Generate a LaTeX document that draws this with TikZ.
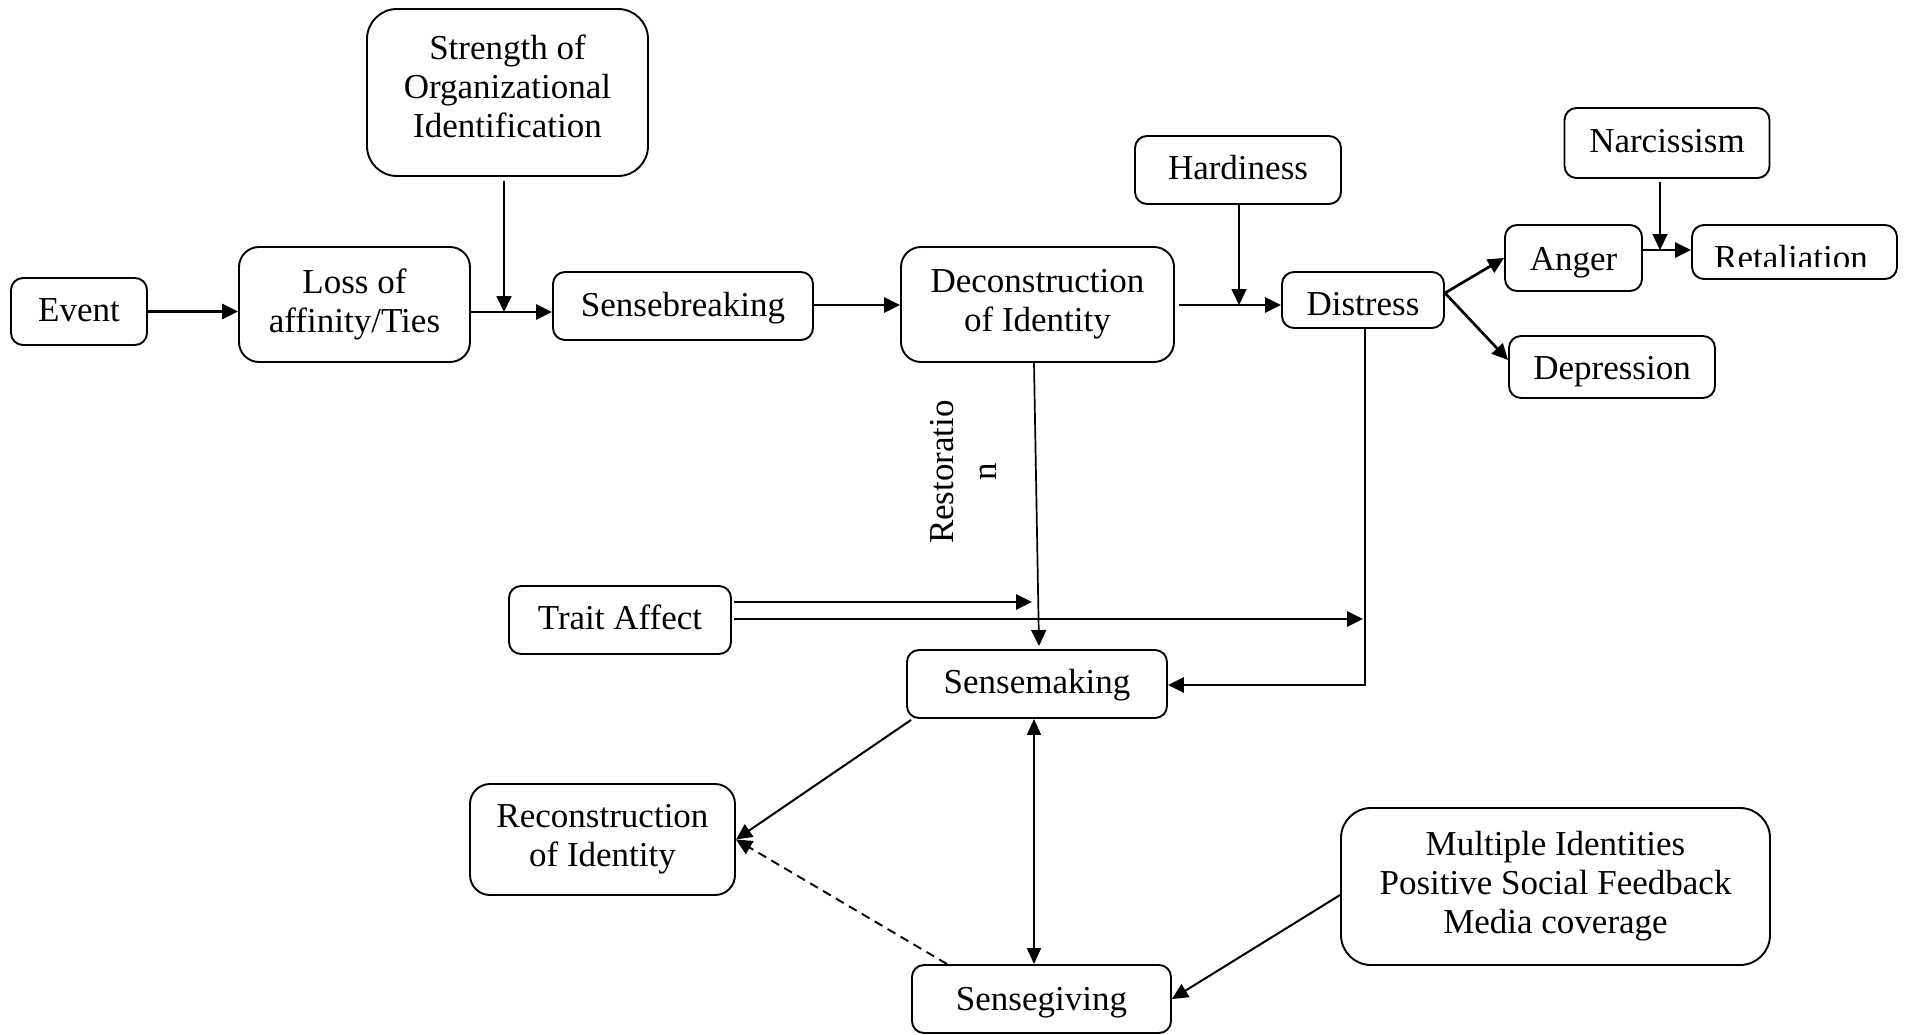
\documentclass[tikz,border=0pt]{standalone}
\usepackage{fontspec}
\setmainfont{Liberation Serif}
\usetikzlibrary{arrows.meta,calc}
\newcommand\boxfont{\fontsize{35}{39}\selectfont}
\begin{document}
\begin{tikzpicture}[x=1pt,y=-1pt,
  box/.style={draw, line width=1.9pt, rounded corners=12pt, align=center,
    inner sep=0pt, font=\boxfont},
  bigbox/.style={box, rounded corners=20pt},
  hugebox/.style={box, rounded corners=30pt},
  % single-line text: baseline sits half of #1 below the box centre
  bl/.style={text height=#1, text depth=0pt},
  arr/.style={-{Triangle[length=16pt,width=15pt]}, line width=2.7pt},
  thin/.style={-{Triangle[length=16pt,width=15pt]}, line width=1.7pt},
  plain/.style={line width=1.7pt}
]
\useasboundingbox (0,0) rectangle (1906,1034);

% upper chain
\node[box, bl=20pt, minimum width=136pt, minimum height=67pt] (event) at (79,311.5) {Event};
\node[bigbox, minimum width=231pt, minimum height=115pt] (loss) at (354.5,304.5) {Loss of\\affinity/Ties};
\node[hugebox, minimum width=281pt, minimum height=167pt] (strength) at (507.5,92.5) {};
\node[font=\boxfont, align=center] (strengthtxt) at (507.5,86) {Strength of\\Organizational\\Identification};
\node[box, bl=21.6pt, minimum width=260pt, minimum height=68pt] (sbreak) at (683,306) {Sensebreaking};
\node[bigbox, minimum width=273pt, minimum height=115pt] (decon) at (1037.5,304.5) {Deconstruction\\of Identity};
\node[box, bl=19.2pt, minimum width=206pt, minimum height=68pt] (hard) at (1238,170) {Hardiness};
\node[box, bl=31pt, minimum width=162pt, minimum height=56pt] (distress) at (1363,300) {Distress};
\node[box, bl=19.4pt, minimum width=205pt, minimum height=70pt] (narc) at (1667,143) {Narcissism};
\node[box, bl=24pt, minimum width=137pt, minimum height=66pt] (anger) at (1573.5,258) {Anger};
\node[box, minimum width=205pt, minimum height=54pt] (retal) at (1794.5,252) {};
\begin{scope}
  \clip (1692,225) rectangle (1898,266.5);
  \node[font=\boxfont, anchor=base, inner sep=0pt] (retaltxt) at (1791,269) {Retaliation};
\end{scope}
\node[box, bl=25.4pt, minimum width=206pt, minimum height=62pt] (depr) at (1612,367) {Depression};

% lower part
\node[font=\boxfont, align=center, rotate=90] (restor) at (963.5,472) {Restoratio\\[4pt]n};
\node[box, bl=19.6pt, minimum width=222pt, minimum height=68pt] (trait) at (620,620) {Trait Affect};
\node[box, bl=19.8pt, minimum width=260pt, minimum height=68pt] (smaking) at (1037,684) {Sensemaking};
\node[bigbox, minimum width=265pt, minimum height=111pt] (recon) at (602.5,839.5) {Reconstruction\\of Identity};
\node[box, bl=22pt, minimum width=259pt, minimum height=68pt] (sgiving) at (1041.5,999) {Sensegiving};
\node[hugebox, minimum width=429pt, minimum height=157pt] (multi) at (1555.5,886.5) {Multiple Identities\\Positive Social Feedback\\Media coverage};

% connectors of the upper chain
\draw[arr] (event.east) -- (event.east -| loss.west);
\coordinate (j1) at (504,312);
\draw[arr] (loss.east |- j1) -- (sbreak.west |- j1);
\draw[thin] ($(strength.south -| j1)+(0,4)$) -- (j1);
\coordinate (j2) at (1239,305);
\draw[arr] (sbreak.east |- j2) -- (decon.west |- j2);
\draw[arr] ($(decon.east |- j2)+(4,0)$) -- (distress.west |- j2);
\draw[thin] (hard.south -| j2) -- (j2);
\coordinate (ds) at ($(distress.east)+(0,-7)$);
\draw[arr] (ds) -- (anger.west);
\draw[arr] (ds) -- ($(depr.west)+(0,-7)$);
\coordinate (j3) at (1660,250);
\draw[arr] (anger.east |- j3) -- (retal.west |- j3);
\draw[thin] ($(narc.south -| j3)+(0,3)$) -- (j3);

% connectors into sensemaking
\draw[thin] ($(decon.south)+(-3.5,0)$) -- ($(smaking.north)+(2,-3)$);
\coordinate (ta) at (1032,602);
\coordinate (tb) at (1363,619);
\draw[arr] ($(trait.east |- ta)+(2,0)$) -- (ta);
\draw[arr] ($(trait.east |- tb)+(2,0)$) -- (tb);
\coordinate (dc) at (1365,685);
\draw[plain] (distress.south -| dc) -- (dc);
\draw[arr] ($(dc)+(0.85,0)$) -- (smaking.east |- dc);

% reconstruction and sensegiving
\draw[arr, line width=2pt] ($(smaking.south west)+(5,1)$) -- (recon.east);
\draw[arr, line width=1.9pt, dash pattern=on 9pt off 6pt] ($(sgiving.north west)+(36,0)$) -- (recon.east);
\draw[plain, {Triangle[length=16pt,width=14pt]}-{Triangle[length=16pt,width=14pt]}]
  ($(smaking.south)+(-3,0)$) -- ($(sgiving.north)+(-7.5,0)$);
\draw[arr, line width=2pt] ($(multi.west)+(0,8.5)$) -- (sgiving.east);
\end{tikzpicture}
\end{document}
